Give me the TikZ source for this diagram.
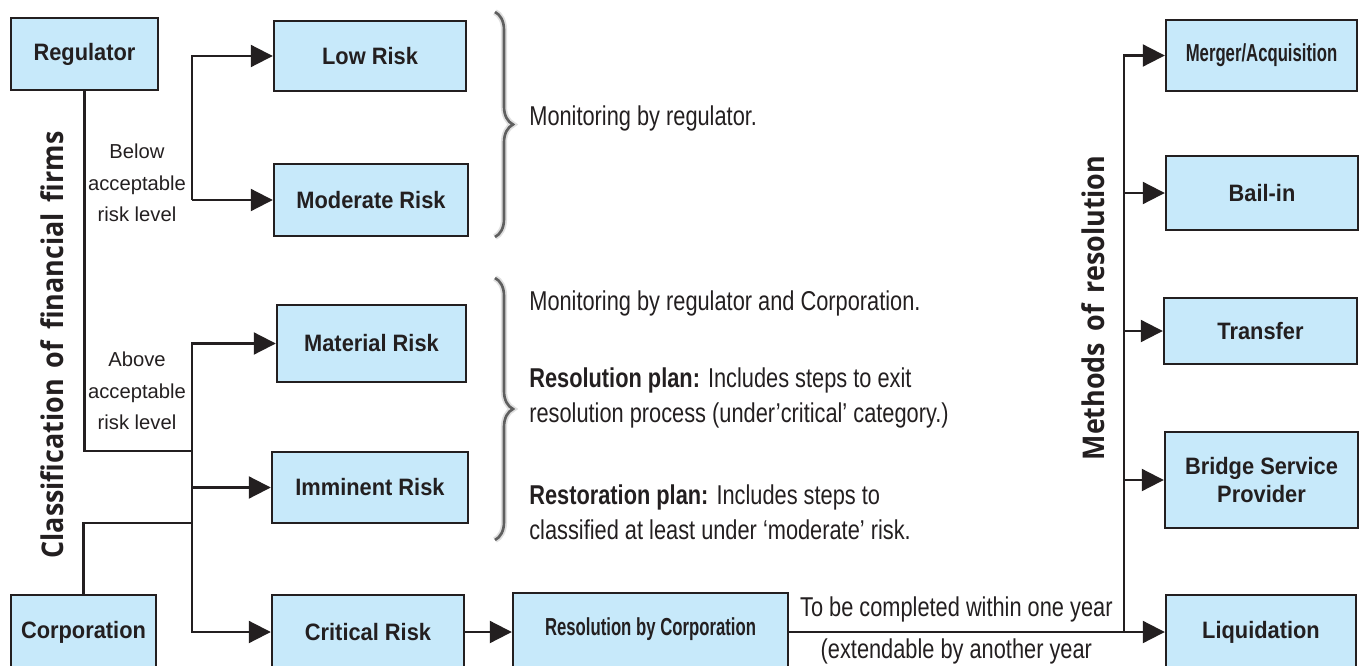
\documentclass[tikz,border=0pt]{standalone}
\usepackage{fontspec}
\setmainfont{Liberation Sans}
\newfontfamily\bodyfont[FakeStretch=0.8]{Liberation Sans}
\newfontfamily\boxfont[FakeStretch=0.92]{Liberation Sans}
\newfontfamily\tightfont[FakeStretch=0.68]{Liberation Sans}
\newfontfamily\titlefont[FakeStretch=0.9,WordSpace=1.6]{Open Sans}
\usepackage{tikz}
\usetikzlibrary{positioning,arrows.meta,decorations.pathreplacing}
\definecolor{boxblue}{RGB}{199,233,250}
\definecolor{inkcol}{RGB}{35,31,32}
\definecolor{bracegray}{RGB}{95,95,95}
\tikzset{
  riskbox/.style={
    draw=inkcol,
    fill=boxblue,
    line width=1.4pt,
    inner sep=0pt,
    text=inkcol,
    font=\boxfont\fontsize{13.5pt}{16pt}\selectfont\bfseries
  },
  tightbox/.style={
    riskbox,
    font=\tightfont\fontsize{14pt}{16pt}\selectfont\bfseries
  },
  link/.style={
    draw=inkcol,
    line width=1.2pt
  },
  flow/.style={
    link,
    -{Triangle[length=0.44cm,width=0.44cm]}
  },
  note/.style={
    anchor=west,
    align=left,
    inner sep=0pt,
    text=inkcol,
    font=\bodyfont\fontsize{15.5pt}{20pt}\selectfont
  },
  side/.style={
    align=center,
    inner sep=0pt,
    text=inkcol,
    font=\fontsize{11.5pt}{18pt}\selectfont
  },
  sidetitle/.style={
    rotate=90,
    inner sep=0pt,
    text=inkcol,
    font=\titlefont\fontsize{17pt}{20pt}\selectfont\bfseries
  },
  curly/.style={
    decorate,
    decoration={brace, amplitude=0.36cm},
    draw=bracegray,
    line width=1.5pt
  }
}

\begin{document}
\begin{tikzpicture}[x=0.02cm, y=-0.02cm]
  \useasboundingbox (0,0) rectangle (1363,666);

  % Who classifies
  \node[riskbox, minimum width=2.94cm, minimum height=1.44cm] (reg) at (84.5,54) {Regulator};
  \node[riskbox, minimum width=2.90cm, minimum height=1.48cm] (corp) at (83.5,632) {Corporation};

  % Risk categories
  \node[riskbox, minimum width=3.84cm, minimum height=1.40cm] (low) at (370,56) {Low Risk};
  \node[riskbox, minimum width=3.88cm, minimum height=1.44cm] (moderate) at (371,200) {Moderate Risk};
  \node[riskbox, minimum width=3.78cm, minimum height=1.54cm] (material) at (371.5,343.5) {Material Risk};
  \node[riskbox, minimum width=3.92cm, minimum height=1.42cm] (imminent) at (370,487.5) {Imminent Risk};
  \node[riskbox, minimum width=3.84cm, minimum height=1.48cm] (critical) at (368,632) {Critical Risk};
  \node[tightbox, minimum width=5.50cm, minimum height=1.56cm, text depth=0.2cm] (rescorp) at (650.5,632) {Resolution by Corporation};

  % Methods of resolution
  \node[tightbox, minimum width=3.82cm, minimum height=1.42cm] (merger) at (1261.5,55.5) {Merger/Acquisition};
  \node[riskbox, minimum width=3.84cm, minimum height=1.48cm] (bailin) at (1262,193) {Bail-in};
  \node[riskbox, minimum width=3.86cm, minimum height=1.32cm] (transfer) at (1260.5,331) {Transfer};
  \node[riskbox, minimum width=3.86cm, minimum height=1.92cm, align=center] (bridge) at (1261.5,480) {Bridge Service\\Provider};
  \node[riskbox, minimum width=3.80cm, minimum height=1.48cm] (liquid) at (1261,632) {Liquidation};

  % Side titles
  \node[sidetitle] (classtitle) at (52,345) {Classification of financial firms};
  \node[sidetitle] (methtitle) at (1093,308) {Methods of resolution};

  % Branch labels
  \node[side] (belowtxt) at (137,183) {Below\\acceptable\\risk level};
  \node[side] (abovetxt) at (137,391) {Above\\acceptable\\risk level};

  % Bus junctions
  \coordinate (below) at (192,200);
  \coordinate (above) at (192,451);
  \coordinate (corpjoin) at (192,523);
  \coordinate (methods) at (1124,632);

  % Below acceptable level
  \draw[flow] (below) |- (low);
  \draw[flow] (below) -- (moderate);

  % Above acceptable level
  \draw[link] (reg.south) |- (above);
  \draw[link] (corp.north) |- (corpjoin);
  \draw[flow] (above) |- (material);
  \draw[flow] (above) |- (imminent);
  \draw[flow] (above) |- (critical);

  % Critical firms go to resolution
  \draw[flow] (critical) -- (rescorp);
  \draw[flow] (rescorp) -- node[pos=0.445, above, inner sep=5pt, font=\bodyfont\fontsize{15.5pt}{18pt}\selectfont, text=inkcol] {To be completed within one year}
    node[pos=0.445, below, inner sep=3pt, font=\bodyfont\fontsize{15.5pt}{18pt}\selectfont, text=inkcol] {(extendable by another year} (liquid);
  \draw[flow] (methods) |- (merger);
  \draw[flow] (methods) |- (bailin);
  \draw[flow] (methods) |- (transfer);
  \draw[flow] (methods) |- (bridge);

  % Braces and notes
  \draw[curly, draw=gray!25, line width=3.5pt] (495,12) -- (495,237);
  \draw[curly] (495,12) -- (495,237);
  \draw[curly, draw=gray!25, line width=3.5pt] (495,278) -- (495,540);
  \draw[curly] (495,278) -- (495,540);

  \node[note] (monreg) at (529,118) {Monitoring by regulator.};
  \node[note] (monboth) at (529,303) {Monitoring by regulator and Corporation.};
  \node[note] (resplan) at (529,398) {\textbf{Resolution plan:} Includes steps to exit\\resolution process (under’critical’ category.)};
  \node[note] (restplan) at (529,512) {\textbf{Restoration plan:} Includes steps to\\classified at least under ‘moderate’ risk.};
\end{tikzpicture}
\end{document}
